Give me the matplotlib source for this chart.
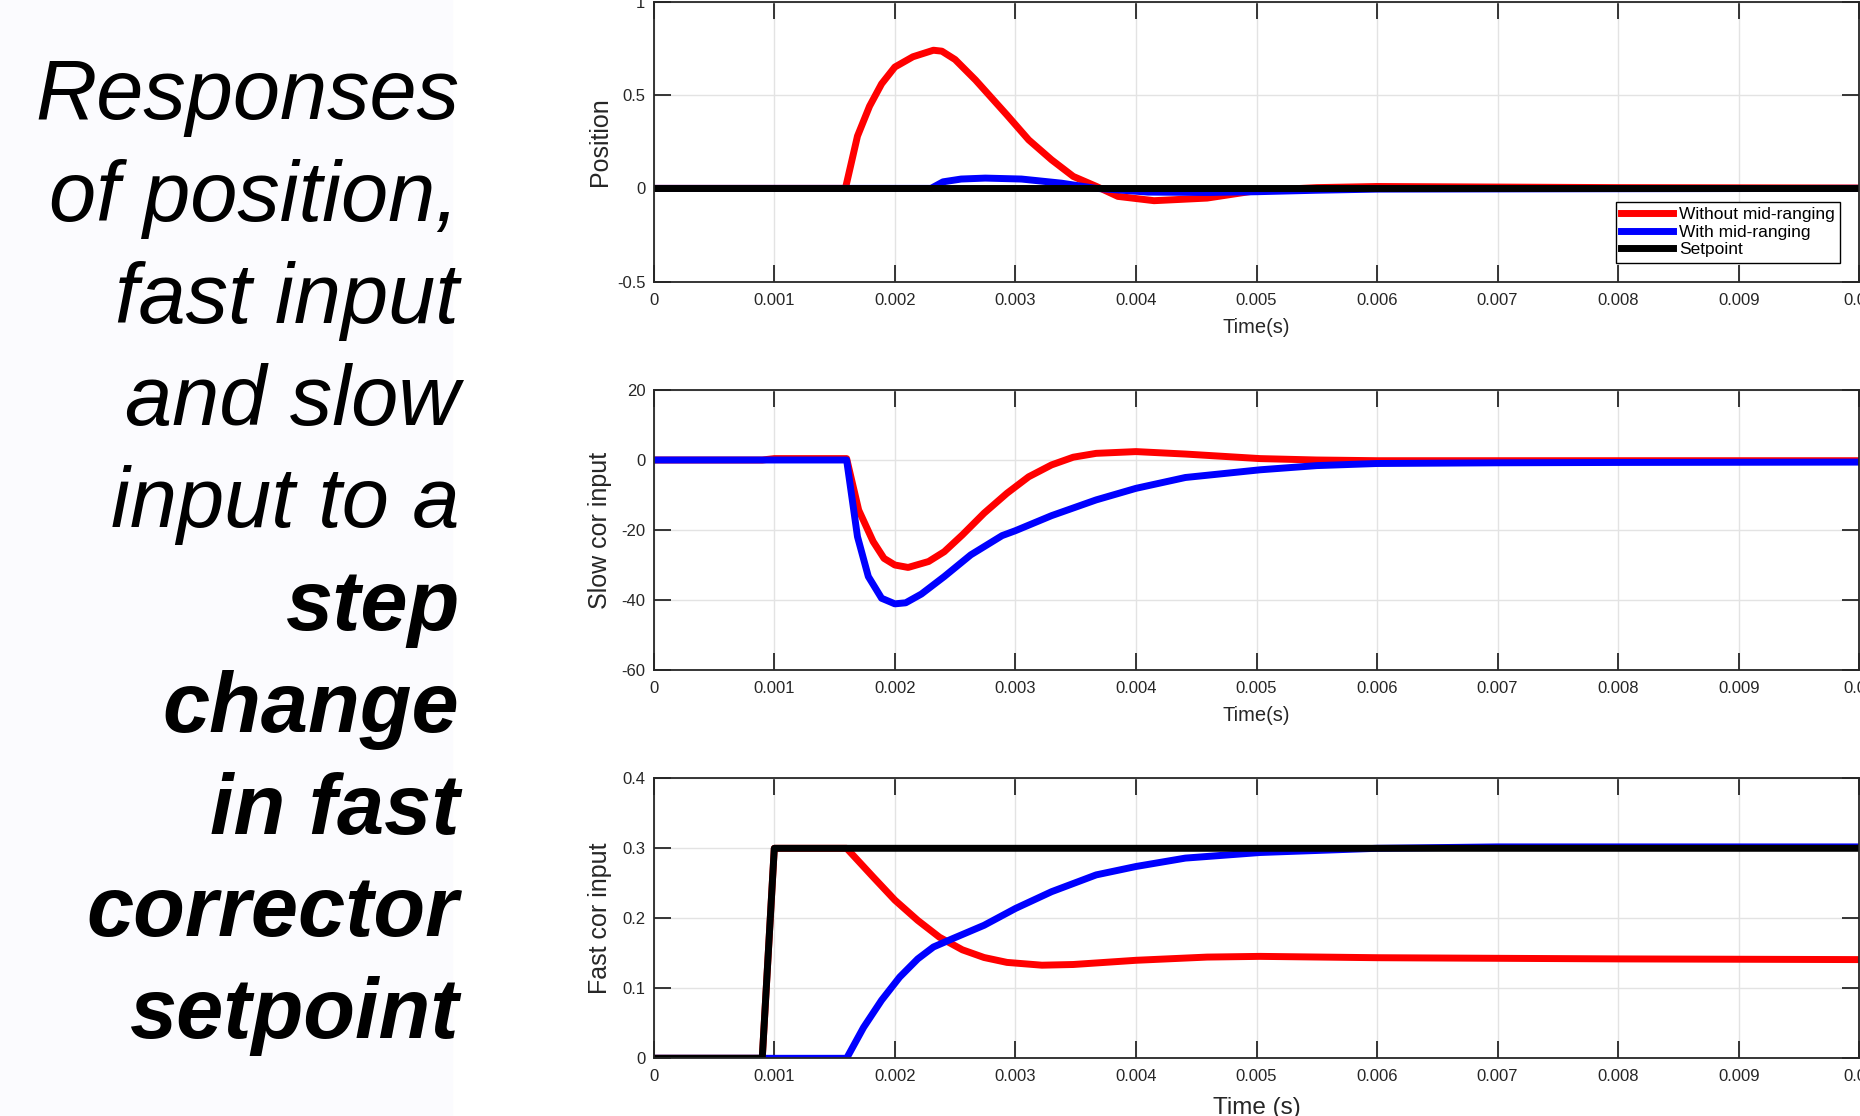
import numpy as np
import matplotlib
matplotlib.use("Agg")
import matplotlib.pyplot as plt
from matplotlib.patches import Rectangle

plt.rcParams['font.family'] = ['Liberation Sans', 'DejaVu Sans']

# left-hand caption, one entry per line
title_lines = ["Responses", "of position,", "fast input", "and slow", "input to a",
               "step", "change", "in fast", "corrector", "setpoint"]
title_bold = [False, False, False, False, False, True, True, True, True, True]

series_names = ["Without mid-ranging", "With mid-ranging", "Setpoint"]

xticks = [0, 0.001, 0.002, 0.003, 0.004, 0.005, 0.006, 0.007, 0.008, 0.009, 0.01]
xtick_labels = ['0', '0.001', '0.002', '0.003', '0.004', '0.005', '0.006',
                '0.007', '0.008', '0.009', '0.01']

# position response
t_pos_red = [0, 0.00159, 0.00169, 0.00179, 0.00189, 0.0020, 0.00215, 0.00232, 0.00239,
             0.0025, 0.00267, 0.00293, 0.00311, 0.0033, 0.00348, 0.00367, 0.00385,
             0.00415, 0.00459, 0.0050, 0.0055, 0.006, 0.007, 0.008, 0.01]
pos_red = [0, 0, 0.28, 0.44, 0.56, 0.65, 0.705, 0.74, 0.735, 0.69, 0.58, 0.393, 0.26,
           0.153, 0.064, 0.011, -0.043, -0.066, -0.052, -0.012, 0.004, 0.01, 0.007,
           0.004, 0.002]
t_pos_blue = [0, 0.0023, 0.0024, 0.00255, 0.00275, 0.00305, 0.00338, 0.00367, 0.0041,
              0.0046, 0.005, 0.0055, 0.006, 0.01]
pos_blue = [0, 0, 0.035, 0.05, 0.055, 0.05, 0.028, 0.0, -0.02, -0.022, -0.018, -0.01,
            -0.004, 0]
t_pos_sp = [0, 0.01]
pos_sp = [0, 0]

# slow corrector input
t_slow_red = [0, 0.0009, 0.001, 0.0016, 0.0017, 0.00182, 0.00191, 0.0020, 0.00211,
              0.00228, 0.00241, 0.00256, 0.00274, 0.00293, 0.00311, 0.0033, 0.00348,
              0.00367, 0.004, 0.00441, 0.00503, 0.0055, 0.006, 0.007, 0.01]
slow_red = [0, 0, 0.4, 0.4, -14.3, -23.3, -28.1, -30, -30.7, -29, -26.2, -21.4, -15.2,
            -9.5, -4.8, -1.4, 0.8, 1.9, 2.4, 1.7, 0.4, 0, -0.2, -0.2, -0.2]
t_slow_blue = [0, 0.0016, 0.00169, 0.00178, 0.00189, 0.0020, 0.00209, 0.00222, 0.00241,
               0.00263, 0.00289, 0.0030, 0.0033, 0.00367, 0.004, 0.00441, 0.00503,
               0.0055, 0.006, 0.007, 0.008, 0.01]
slow_blue = [0, 0, -21.9, -33.3, -39.5, -41.1, -40.8, -38.3, -33.3, -27.1, -21.6, -20.2,
             -15.9, -11.4, -8.1, -5.0, -2.8, -1.6, -1.0, -0.8, -0.7, -0.6]

# fast corrector input
t_fast_red = [0, 0.0009, 0.001, 0.0016, 0.00182, 0.0020, 0.00219, 0.00237, 0.00256,
              0.00274, 0.00293, 0.00322, 0.00348, 0.004, 0.00459, 0.00503, 0.006,
              0.008, 0.01]
fast_red = [0, 0, 0.3, 0.3, 0.259, 0.226, 0.197, 0.173, 0.155, 0.144, 0.137, 0.133,
            0.134, 0.14, 0.1446, 0.1456, 0.1437, 0.142, 0.141]
t_fast_blue = [0, 0.0016, 0.00174, 0.00189, 0.00204, 0.00219, 0.00232, 0.00248,
               0.00274, 0.0030, 0.0033, 0.00367, 0.004, 0.00441, 0.00503, 0.006,
               0.007, 0.01]
fast_blue = [0, 0, 0.044, 0.083, 0.116, 0.142, 0.159, 0.171, 0.19, 0.214, 0.238, 0.262,
             0.274, 0.286, 0.294, 0.3, 0.302, 0.302]
t_fast_sp = [0, 0.0009, 0.001, 0.01]
fast_sp = [0, 0, 0.3, 0.3]

W, H = 1860, 1116
LW = 5.0
DARK = '#262626'

fig = plt.figure(figsize=(W / 100, H / 100), dpi=100)
fig.patches.append(Rectangle((0, 0), 452 / W, 1, transform=fig.transFigure,
                             color='#FBFBFE', zorder=-1))

# caption on the left
for i, (line, bold) in enumerate(zip(title_lines, title_bold)):
    fig.text(459 / W, 1 - (118.6 + 102.2 * i) / H, line, ha='right', va='baseline',
             fontsize=61, style='italic', weight='bold' if bold else 'normal')


def make_axes(top_px, yticks, ylabels, ylim, ylabel, xlabel, xlabel_size, xpad):
    left, width, height = 653.75, 1205.5, 280
    ax = fig.add_axes([left / W, 1 - (top_px + height) / H, width / W, height / H])
    ax.set_xlim(0, 0.01)
    ax.set_ylim(*ylim)
    ax.set_xticks(xticks)
    ax.set_xticklabels(xtick_labels)
    ax.set_yticks(yticks)
    ax.set_yticklabels(ylabels)
    ax.tick_params(direction='in', length=12, width=1.3, top=True, right=True,
                   labelsize=12, colors=DARK, pad=6)
    ax.tick_params(axis='x', pad=8)
    ax.grid(True, color='#E3E3E3', lw=1.0)
    for s in ax.spines.values():
        s.set_color(DARK)
        s.set_linewidth(1.3)
    ax.set_ylabel(ylabel, fontsize=18, color=DARK)
    ax.yaxis.set_label_coords(-0.035, 0.5)
    ax.set_xlabel(xlabel, fontsize=xlabel_size, color=DARK, labelpad=xpad)
    return ax


ax1 = make_axes(1.7, [-0.5, 0, 0.5, 1], ['-0.5', '0', '0.5', '1'], (-0.5, 1),
                'Position', 'Time(s)', 14.5, 7)
ax1.plot(t_pos_red, pos_red, color='red', lw=LW, label=series_names[0])
ax1.plot(t_pos_blue, pos_blue, color='blue', lw=LW, label=series_names[1])
ax1.plot(t_pos_sp, pos_sp, color='black', lw=LW, label=series_names[2])
leg = ax1.legend(loc='lower right', bbox_to_anchor=(1 - 19 / 1205.5, 19 / 280),
                 borderaxespad=0, fontsize=12.5, fancybox=False, framealpha=1,
                 edgecolor='black', borderpad=0.3, handlelength=3.0,
                 handletextpad=0.35, labelspacing=0.15)
leg.get_frame().set_linewidth(1.0)

ax2 = make_axes(390, [-60, -40, -20, 0, 20], ['-60', '-40', '-20', '0', '20'], (-60, 20),
                'Slow cor input', 'Time(s)', 14.5, 7)
ax2.plot(t_slow_red, slow_red, color='red', lw=LW)
ax2.plot(t_slow_blue, slow_blue, color='blue', lw=LW)

ax3 = make_axes(778.3, [0, 0.1, 0.2, 0.3, 0.4], ['0', '0.1', '0.2', '0.3', '0.4'], (0, 0.4),
                'Fast cor input', 'Time (s)', 17.5, 9)
ax3.plot(t_fast_red, fast_red, color='red', lw=LW)
ax3.plot(t_fast_blue, fast_blue, color='blue', lw=LW)
ax3.plot(t_fast_sp, fast_sp, color='black', lw=LW)

fig.savefig('out.png', dpi=100)
